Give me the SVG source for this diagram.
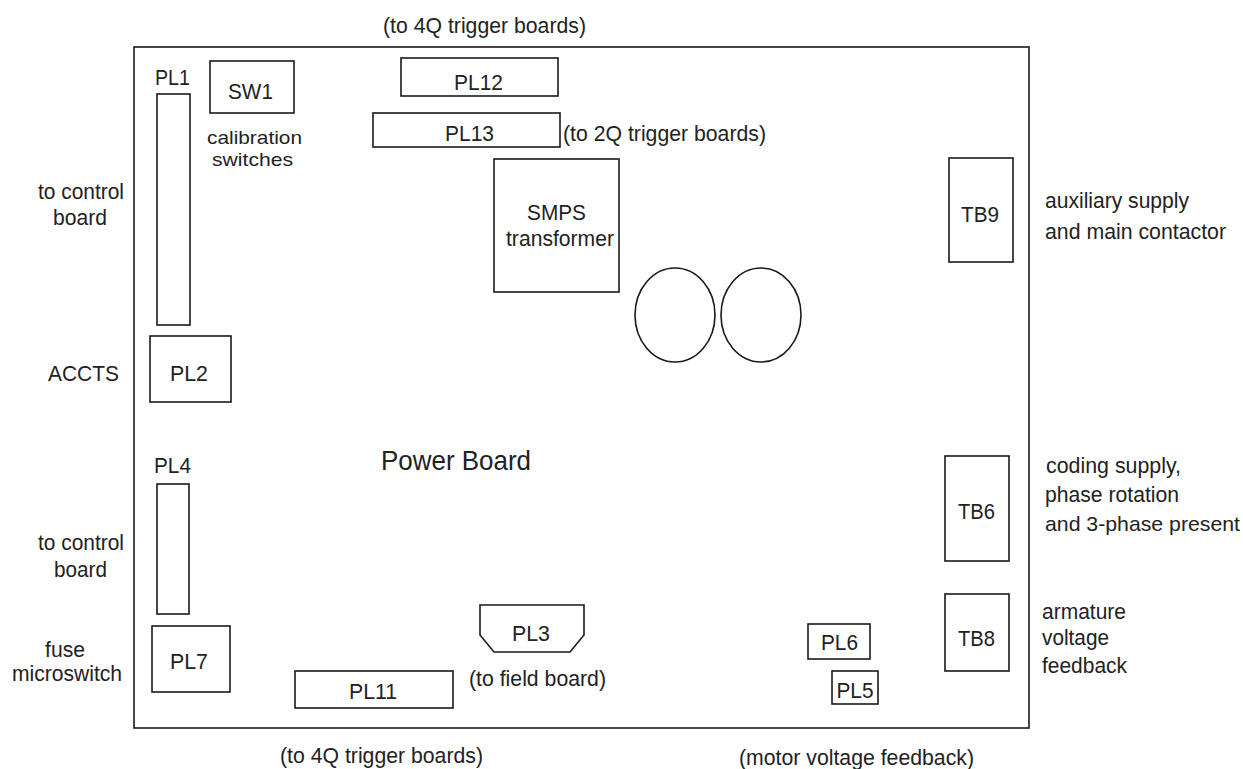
<svg xmlns="http://www.w3.org/2000/svg" width="1243" height="769" viewBox="0 0 1243 769">
<style>
rect,ellipse,path{fill:#fff;stroke:#1a1a1a;stroke-width:1.6}
text{font-family:"Liberation Sans",Arial,sans-serif;font-size:22px;fill:#222;text-anchor:start}
.tight{font-size:19px}
</style>
<g id="board"><rect x="134" y="47" width="895" height="681" stroke-width="2"/><text x="381" y="470" textLength="150" lengthAdjust="spacingAndGlyphs" style="font-size:28px">Power Board</text></g>
<g id="PL1"><rect x="157" y="94" width="33" height="231"/><text x="155" y="85" textLength="35" lengthAdjust="spacingAndGlyphs">PL1</text></g>
<g id="SW1"><rect x="210" y="61" width="84" height="52"/><text x="228" y="99" textLength="45" lengthAdjust="spacingAndGlyphs">SW1</text></g>
<g id="PL12"><rect x="401" y="58" width="157" height="38"/><text x="454" y="90" textLength="49" lengthAdjust="spacingAndGlyphs">PL12</text></g>
<g id="PL13"><rect x="373" y="113" width="187" height="34"/><text x="445" y="141" textLength="49" lengthAdjust="spacingAndGlyphs">PL13</text></g>
<g id="SMPS"><rect x="494" y="159" width="125" height="133"/><text x="527" y="220" textLength="59" lengthAdjust="spacingAndGlyphs">SMPS</text><text x="506" y="246" textLength="108" lengthAdjust="spacingAndGlyphs">transformer</text></g>
<g id="coil1"><ellipse cx="675" cy="315" rx="40" ry="47"/></g>
<g id="coil2"><ellipse cx="761" cy="315" rx="40" ry="47"/></g>
<g id="TB9"><rect x="949" y="158" width="64" height="104"/><text x="961" y="222" textLength="38" lengthAdjust="spacingAndGlyphs">TB9</text></g>
<g id="PL2"><rect x="150" y="336" width="81" height="66"/><text x="170" y="381" textLength="38" lengthAdjust="spacingAndGlyphs">PL2</text></g>
<g id="PL4"><rect x="157" y="484" width="32" height="130"/><text x="154" y="473" textLength="37" lengthAdjust="spacingAndGlyphs">PL4</text></g>
<g id="TB6"><rect x="945" y="456" width="64" height="105"/><text x="958" y="519" textLength="37" lengthAdjust="spacingAndGlyphs">TB6</text></g>
<g id="TB8"><rect x="945" y="594" width="64" height="77"/><text x="958" y="646" textLength="37" lengthAdjust="spacingAndGlyphs">TB8</text></g>
<g id="PL7"><rect x="152" y="626" width="78" height="66"/><text x="170" y="669" textLength="38" lengthAdjust="spacingAndGlyphs">PL7</text></g>
<g id="PL3"><path d="M480 605H584V635L570 652H494L480 635Z"/><text x="512" y="641" textLength="38" lengthAdjust="spacingAndGlyphs">PL3</text></g>
<g id="PL11"><rect x="295" y="671" width="158" height="37"/><text x="349" y="699" textLength="48" lengthAdjust="spacingAndGlyphs">PL11</text></g>
<g id="PL6"><rect x="808" y="624" width="62" height="35"/><text x="821" y="650" textLength="37" lengthAdjust="spacingAndGlyphs">PL6</text></g>
<g id="PL5"><rect x="832" y="671" width="46" height="33"/><text x="836.5" y="698" textLength="37" lengthAdjust="spacingAndGlyphs">PL5</text></g>
<g id="labels">
<text x="383" y="33" textLength="203" lengthAdjust="spacingAndGlyphs">(to 4Q trigger boards)</text>
<text class="tight" x="207" y="144" textLength="95" lengthAdjust="spacingAndGlyphs">calibration</text>
<text class="tight" x="212" y="166" textLength="81" lengthAdjust="spacingAndGlyphs">switches</text>
<text x="563" y="141" textLength="203" lengthAdjust="spacingAndGlyphs">(to 2Q trigger boards)</text>
<text x="38" y="199" textLength="86" lengthAdjust="spacingAndGlyphs">to control</text>
<text x="53" y="225" textLength="54" lengthAdjust="spacingAndGlyphs">board</text>
<text x="48" y="381" textLength="71" lengthAdjust="spacingAndGlyphs">ACCTS</text>
<text x="38" y="550" textLength="86" lengthAdjust="spacingAndGlyphs">to control</text>
<text x="54" y="577" textLength="53" lengthAdjust="spacingAndGlyphs">board</text>
<text x="45" y="657" textLength="40" lengthAdjust="spacingAndGlyphs">fuse</text>
<text x="12" y="681" textLength="110" lengthAdjust="spacingAndGlyphs">microswitch</text>
<text x="1045" y="208" textLength="144" lengthAdjust="spacingAndGlyphs">auxiliary supply</text>
<text x="1045" y="239" textLength="181" lengthAdjust="spacingAndGlyphs">and main contactor</text>
<text x="1046" y="473" textLength="135" lengthAdjust="spacingAndGlyphs">coding supply,</text>
<text x="1045" y="502" textLength="134" lengthAdjust="spacingAndGlyphs">phase rotation</text>
<text x="1045" y="531" textLength="195" lengthAdjust="spacingAndGlyphs" style="font-size:21px">and 3-phase present</text>
<text x="1042" y="619" textLength="84" lengthAdjust="spacingAndGlyphs">armature</text>
<text x="1042" y="645" textLength="67" lengthAdjust="spacingAndGlyphs">voltage</text>
<text x="1042" y="673" textLength="85" lengthAdjust="spacingAndGlyphs">feedback</text>
<text x="469" y="686" textLength="137" lengthAdjust="spacingAndGlyphs">(to field board)</text>
<text x="280" y="763" textLength="203" lengthAdjust="spacingAndGlyphs">(to 4Q trigger boards)</text>
<text x="739" y="765" textLength="235" lengthAdjust="spacingAndGlyphs">(motor voltage feedback)</text>
</g>
</svg>
